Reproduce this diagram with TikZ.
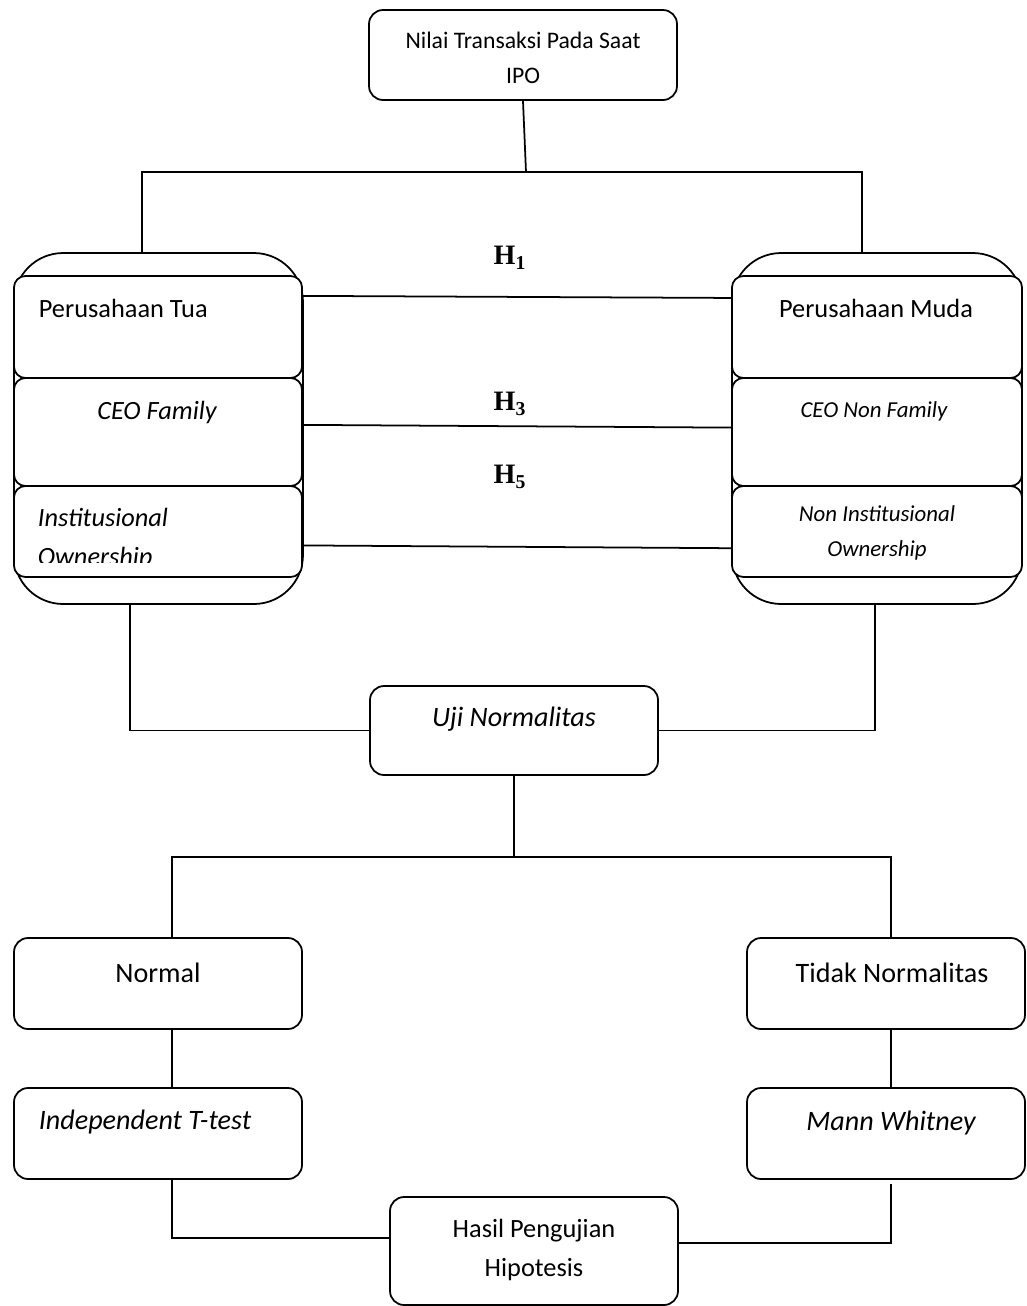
\documentclass[tikz,border=0pt]{standalone}
\usepackage{fontspec}
\setmainfont{Carlito}
\newfontfamily\hfont{Liberation Serif}
\usetikzlibrary{positioning,fit,calc}

\begin{document}
\begin{tikzpicture}[x=0.02cm,y=-0.02cm,line width=1pt,
  box/.style={draw,rounded corners=8pt,inner sep=0pt},
  grp/.style={draw,rounded corners=28pt,inner sep=0pt},
  sub/.style={draw,fill=white,rounded corners=6.5pt,inner sep=0pt},
  lbl/.style={inner sep=0pt,font=\fontsize{16}{20}\selectfont},
  lblit/.style={inner sep=0pt,font=\fontsize{16}{20}\selectfont\itshape},
  small/.style={inner sep=0pt,align=center,font=\fontsize{13}{19.8}\selectfont\itshape},
  hyp/.style={inner sep=0pt,font=\fontsize{16}{19}\selectfont\hfont\bfseries}]
\useasboundingbox (0,0) rectangle (1027,1306);
\node[box,fit={(369,10)(677,100)}] (ipo) {};
\node[lbl,align=center,font=\fontsize{13.5}{19.8}\selectfont] (ipotxt) at (523,58) {Nilai Transaksi Pada Saat\\IPO};
\node[grp,fit={(14,253)(303,604)}] (tua) {};
\node[sub,fit={(14,276)(302,378)}] (tua1) {};
\node[sub,fit={(14,378)(302,486)}] (tua2) {};
\node[sub,fit={(14,486)(302,577)}] (tua3) {};
\node[lbl,anchor=west,font=\fontsize{15}{20}\selectfont] (tuatxt) at (38,308) {Perusahaan Tua};
\node[lblit,font=\fontsize{15}{20}\selectfont\itshape] (famtxt) at (157,412) {CEO Family};
\node[lblit,anchor=base west,font=\fontsize{15}{20}\selectfont\itshape] (insttxt) at (37,526) {Institusional};
\begin{scope}
\clip (14,486) rectangle (302,562);
\node[lblit,anchor=base west,font=\fontsize{15}{20}\selectfont\itshape] (owntxt) at (37,565) {Ownership};
\end{scope}
\node[grp,fit={(732,253)(1022,604)}] (muda) {};
\node[sub,fit={(732,276)(1022,378)}] (muda1) {};
\node[sub,fit={(732,378)(1022,486)}] (muda2) {};
\node[sub,fit={(732,486)(1022,577)}] (muda3) {};
\node[lbl,font=\fontsize{15}{20}\selectfont] (mudatxt) at (876,308) {Perusahaan Muda};
\node[small] (nonfamtxt) at (874,411) {CEO Non Family};
\node[small] (noninsttxt) at (877,533) {Non Institusional\\Ownership};
\coordinate (top) at (526,172);
\coordinate (tuain) at (142,253);
\coordinate (mudain) at (862,253);
\draw (ipo.south) -- (top);
\draw (tuain) |- (top) -| (mudain);
\draw ($(tua1.north east)!0.2!(tua1.south east)$) -- ($(muda1.north west)!0.22!(muda1.south west)$);
\draw ($(tua2.north east)!0.435!(tua2.south east)$) -- ($(muda2.north west)!0.46!(muda2.south west)$);
\draw ($(tua3.north east)!0.65!(tua3.south east)$) -- ($(muda3.north west)!0.68!(muda3.south west)$);
\node[hyp] (h1) at (510,258) {H\textsubscript{1}};
\node[hyp] (h3) at (510,404) {H\textsubscript{3}};
\node[hyp] (h5) at (510,477) {H\textsubscript{5}};
\node[box,fit={(370,686)(658,775)}] (uji) {};
\node[lblit] (ujitxt) at (514,719) {Uji Normalitas};
\coordinate (tuaout) at (130,604);
\coordinate (mudaout) at (875,604);
\draw (tuaout) |- (uji.west);
\draw (mudaout) |- (uji.east);
\coordinate (mid) at (514,857);
\draw (uji.south) -- (mid);
\node[box,fit={(14,938)(302,1029)}] (normal) {};
\node[box,fit={(747,938)(1025,1029)}] (tidak) {};
\node[lbl] (normaltxt) at (158,973) {Normal};
\node[lbl] (tidaktxt) at (892,973) {Tidak Normalitas};
\coordinate (normalin) at (172,938);
\coordinate (tidakin) at (891,938);
\draw (normalin) |- (mid) -| (tidakin);
\node[box,fit={(14,1088)(302,1179)}] (ttest) {};
\node[box,fit={(747,1088)(1025,1179)}] (mann) {};
\node[lblit,anchor=west] (ttesttxt) at (38,1122) {Independent T-test};
\node[lblit] (manntxt) at (891,1123) {Mann Whitney};
\draw (normal.south -| normalin) -- (ttest.north -| normalin);
\draw (tidak.south -| tidakin) -- (mann.north -| tidakin);
\node[box,fit={(390,1197)(678,1305)}] (hasil) {};
\node[lbl,align=center,font=\fontsize{15}{22}\selectfont] (hasiltxt) at (534,1250) {Hasil Pengujian\\Hipotesis};
\draw (ttest.south -| normalin) |- ($(hasil.north west)!0.38!(hasil.south west)$);
\draw ($(mann.south -| tidakin)+(0,4)$) |- ($(hasil.north east)!0.43!(hasil.south east)$);
\end{tikzpicture}
\end{document}
